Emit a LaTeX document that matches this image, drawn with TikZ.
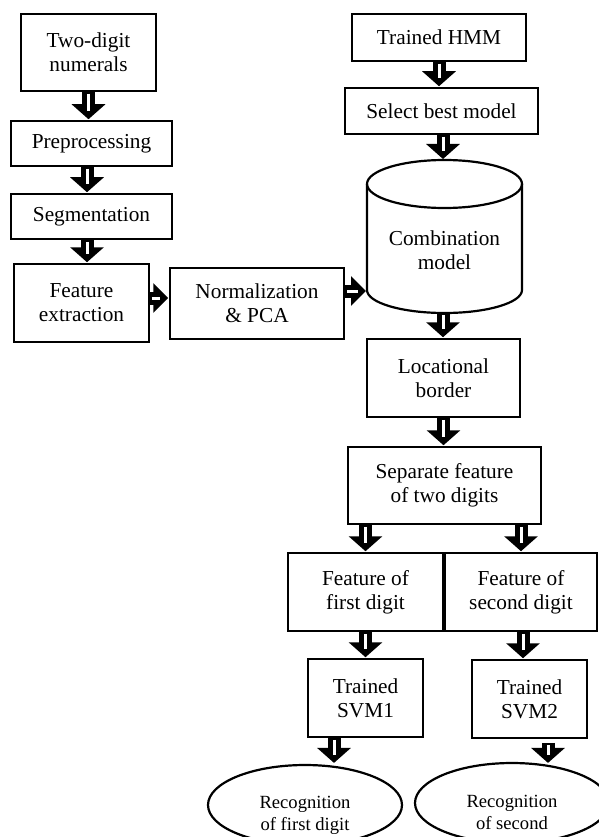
\documentclass[tikz,border=0pt]{standalone}
\usepackage{fontspec}
\setmainfont{Liberation Serif}
\usetikzlibrary{arrows.meta,calc,shapes.geometric}
\newcommand\mainsz{\fontsize{21.3pt}{24pt}\selectfont}
\newcommand\smallsz{\fontsize{18.6pt}{22pt}\selectfont}
\tikzset{
  box/.style={draw, line width=1.5pt, align=center, inner sep=0pt, font=\mainsz},
  oval/.style={draw, ellipse, line width=2.2pt, inner sep=0pt},
  ovaltext/.style={align=center, inner sep=0pt, font=\smallsz},
  barrow/.style={line width=13pt, -{Triangle[width=33pt,length=15pt]}, shorten >=1pt},
  harrow/.style={line width=13pt, -{Triangle[width=29pt,length=15pt]}, shorten >=1pt},
  bstripe/.style={white, line width=3pt, shorten <=2pt, shorten >=9pt},
}
\newcommand\bigarrow[2]{\draw[barrow] #1 -- #2; \draw[bstripe] #1 -- #2;}
\newcommand\sidearrow[2]{\draw[harrow] #1 -- #2; \draw[bstripe] #1 -- #2;}
\begin{document}
\begin{tikzpicture}[x=1pt, y=-1pt]
\useasboundingbox (0,0) rectangle (599,837);
\clip (0,0) rectangle (599,837);
\fill[white] (0,0) rectangle (599,837);
% left column
\node[box, minimum width=135pt, minimum height=77pt] (n1) at (88.5,52.5) {Two-digit\\numerals};
\node[box, minimum width=161pt, minimum height=45pt] (pre) at (91.5,143.5) {Preprocessing};
\node[box, minimum width=161pt, minimum height=45pt] (seg) at (91.5,216.5) {Segmentation};
\node[box, minimum width=135pt, minimum height=78pt] (fe) at (81.5,303) {Feature\\extraction};
\node[box, minimum width=174pt, minimum height=71pt] (norm) at (257,303.5) {Normalization\\\& PCA};
% right column
\node[box, minimum width=174pt, minimum height=47pt] (hmm) at (439,37.5) {Trained HMM};
\node[box, minimum width=193pt, minimum height=46pt] (sel) at (441.5,111) {Select best model};
% cylinder
\draw[line width=2.2pt, fill=white] (367,184) -- (367,290) arc[start angle=180, end angle=360, x radius=77.5pt, y radius=23pt] -- (522,184);
\draw[line width=2.2pt] (444.5,184) ellipse [x radius=77.5pt, y radius=24pt];
\node[align=center, inner sep=0pt, font=\mainsz] (comb) at (444.5,250) {Combination\\model};
\coordinate (cylT) at (443,160);
\coordinate (cylL) at (367,291);
\coordinate (cylB) at (443,313);
\node[box, minimum width=153pt, minimum height=78pt] (loc) at (443.5,378) {Locational\\border};
\node[box, minimum width=193pt, minimum height=77pt] (sep) at (444.5,485.5) {Separate feature\\of two digits};
\node[box, minimum width=155pt, minimum height=78pt] (f1) at (365.5,592) {Feature of\\first digit};
\node[box, minimum width=152pt, minimum height=78pt] (f2) at (521,592) {Feature of\\second digit};
\node[box, minimum width=115pt, minimum height=78pt] (svm1) at (365.5,698) {Trained\\SVM1};
\node[box, minimum width=115pt, minimum height=78pt] (svm2) at (529.5,699) {Trained\\SVM2};
\node[oval, minimum width=194pt, minimum height=80pt] (rec1) at (305,805) {};
\node[ovaltext] (rec1t) at (305,815) {Recognition\\of first digit};
\node[oval, minimum width=194pt, minimum height=80pt] (rec2) at (512,803) {};
\node[ovaltext] (rec2t) at (512,812) {Recognition\\of second};
% arrows
\bigarrow{(n1.south)}{(n1.south |- pre.north)}
\bigarrow{([xshift=-4.5pt]pre.south)}{([xshift=-4.5pt]seg.north)}
\bigarrow{([xshift=-4.5pt]seg.south)}{([xshift=5.5pt]fe.north)}
\sidearrow{([yshift=5pt]fe.east)}{([yshift=5pt]fe.east -| norm.west)}
\sidearrow{([yshift=12.5pt]norm.east)}{(cylL)}
\bigarrow{(hmm.south)}{(hmm.south |- sel.north)}
\bigarrow{([xshift=1.5pt]sel.south)}{(cylT)}
\bigarrow{(cylB)}{(cylB |- loc.north)}
\bigarrow{(loc.south)}{(loc.south |- sep.north)}
\bigarrow{(sep.south -| f1.north)}{(f1.north)}
\bigarrow{(sep.south -| f2.north)}{(f2.north)}
\bigarrow{(f1.south)}{(f1.south |- svm1.north)}
\bigarrow{([xshift=2pt]f2.south)}{([xshift=2pt]f2.south |- svm2.north)}
\bigarrow{([xshift=-31.5pt]svm1.south)}{([xshift=-31.5pt]svm1.south |- rec1.north)}
\bigarrow{([xshift=18.5pt,yshift=-4pt]svm2.south)}{([xshift=18.5pt,yshift=-2pt]svm2.south |- rec2.north)}
\end{tikzpicture}
\end{document}
